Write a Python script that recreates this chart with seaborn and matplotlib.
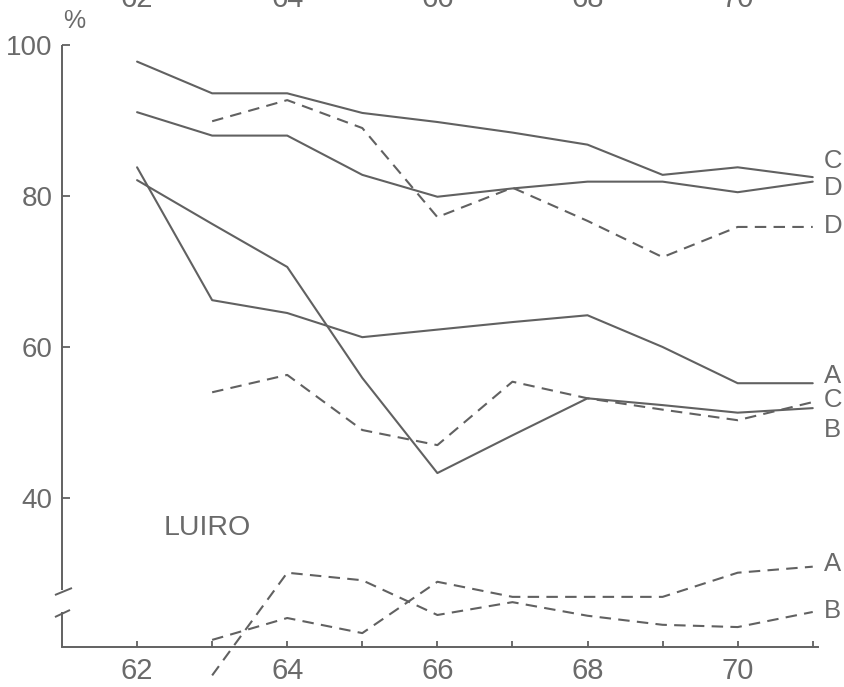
import matplotlib
matplotlib.use("Agg")
import matplotlib.pyplot as plt
import seaborn as sns

# Survey years (19xx)
years = [62, 63, 64, 65, 66, 67, 68, 69, 70, 71]
years_late = [63, 64, 65, 66, 67, 68, 69, 70, 71]

# Upper block of series (%)
c_solid = [97.8, 93.6, 93.6, 91.0, 89.8, 88.4, 86.8, 82.8, 83.8, 82.5]
d_solid = [91.1, 88.0, 88.0, 82.8, 79.9, 81.0, 81.9, 81.9, 80.5, 81.9]
d_dashed = [89.9, 92.7, 89.0, 77.2, 81.1, 76.7, 71.9, 75.9, 75.9]
a_solid = [83.8, 66.2, 64.5, 61.3, 62.3, 63.3, 64.2, 60.0, 55.2, 55.2]
c_solid_low = [82.1, 76.3, 70.6, 55.9, 43.3, 48.3, 53.2, 52.3, 51.3, 51.9]
b_dashed = [54.0, 56.3, 49.0, 47.0, 55.4, 53.2, 51.7, 50.3, 52.7]

# Lower (broken-axis) block of series
a_dashed_low = [21.2, 24.1, 22.1, 28.9, 26.9, 26.9, 26.9, 30.1, 30.9]
b_dashed_low = [16.5, 30.1, 29.1, 24.5, 26.2, 24.4, 23.2, 22.9, 24.9]

# End labels on the right-hand side
end_labels = ["C", "D", "D", "A", "C", "B", "A", "B"]
end_label_y = [84.6, 81.1, 76.0, 56.2, 53.0, 49.0, 31.3, 25.0]

xtick_values = years
xtick_labels = ["62", "", "64", "", "66", "", "68", "", "70", ""]
ytick_values = [40, 60, 80, 100]
ytick_labels = ["40", "60", "80", "100"]
top_labels = ["62", "64", "66", "68", "70"]
top_label_x = [62, 64, 66, 68, 70]

sns.set_theme(style="white")
plt.rcParams["font.family"] = ["Liberation Sans", "DejaVu Sans"]

INK = "#616161"
TXT = "#6a6a6a"
SOLID = "-"
DASHED = (0, (5.5, 3.5))

fig = plt.figure(figsize=(8.45, 6.87), dpi=100)
ax = fig.add_axes([62 / 845, 40 / 687, 756 / 845, 602 / 687])

series = [
    (years, c_solid, SOLID, True),
    (years, d_solid, SOLID, True),
    (years_late, d_dashed, DASHED, True),
    (years, a_solid, SOLID, True),
    (years, c_solid_low, SOLID, True),
    (years_late, b_dashed, DASHED, True),
    (years_late, a_dashed_low, DASHED, True),
    (years_late, b_dashed_low, DASHED, False),
]
for xs, ys, ls, clip in series:
    sns.lineplot(x=xs, y=ys, ax=ax, color=INK, lw=1.5, linestyle=ls,
                 clip_on=clip)

ax.set_xlim(61.0, 71.07)
ax.set_ylim(20.26, 100)
ax.set_xticks(xtick_values)
ax.set_xticklabels(xtick_labels)
ax.set_yticks(ytick_values)
ax.set_yticklabels(ytick_labels)
ax.set_xlabel("")
ax.set_ylabel("")

for side in ["top", "right", "left"]:
    ax.spines[side].set_visible(False)
ax.spines["bottom"].set_color(INK)
ax.spines["bottom"].set_linewidth(1.4)

ax.tick_params(axis="both", direction="in", color=INK, width=1.3,
               labelcolor=TXT, bottom=True, left=True)
ax.tick_params(axis="x", length=4, pad=7, labelsize=21)
ax.tick_params(axis="y", length=6, pad=7, labelsize=20)

# Left axis drawn in two pieces with a break between them
spine_kw = dict(transform=ax.transAxes, clip_on=False, color=INK, lw=1.4,
                solid_capstyle="butt")
ax.plot([0, 0], [1.0, 0.0947], **spine_kw)
ax.plot([0, 0], [0.0581, 0.0], **spine_kw)
ax.plot([-0.0093, 0.0132], [0.0864, 0.098], **spine_kw)
ax.plot([-0.0093, 0.0106], [0.0498, 0.0615], **spine_kw)

# Series letters at the right end
for lab, yv in zip(end_labels, end_label_y):
    ax.text(71.15, yv, lab, ha="left", va="center", fontsize=18.5, color=TXT,
            clip_on=False)

ax.text(62.36, 36.0, "LUIRO", ha="left", va="center", fontsize=20.5,
        color=TXT)
ax.text(0.016, 1.04, "%", transform=ax.transAxes, ha="center", va="center",
        fontsize=18, color=TXT)

# Year labels of the panel above, cut by the top edge
for lab, xv in zip(top_labels, top_label_x):
    ax.text(xv, 1.063, lab, transform=ax.get_xaxis_transform(), ha="center",
            va="baseline", fontsize=21, color=TXT, clip_on=False)

fig.savefig("out.png", dpi=100, facecolor="white")
